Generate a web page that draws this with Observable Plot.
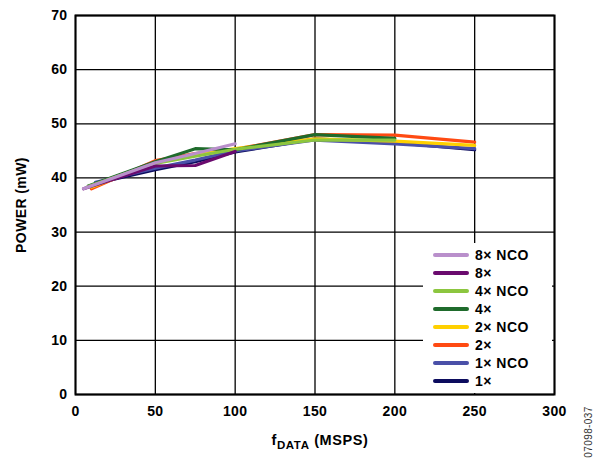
<!DOCTYPE html>
<html>
<head>
<meta charset="utf-8">
<script src="https://cdn.jsdelivr.net/npm/d3@7"></script>
<script src="https://cdn.jsdelivr.net/npm/@observablehq/plot@0.6"></script>
<style>
  body { margin: 0; background: white; font-family: "Liberation Sans", Arial, sans-serif; }
  #wrap { position: relative; width: 600px; height: 459px; }
  #legend { position: absolute; left: 423px; top: 243px; width: 129px; height: 150px; background: white; }
  .row { position: absolute; left: 0; height: 18px; display: flex; align-items: center; }
  .sw { width: 36px; height: 4px; margin-left: 10px; margin-right: 6px; border-radius: 2px; }
  .lab { font-weight: bold; font-size: 14px; letter-spacing: 0.5px; color: #000; }
</style>
</head>
<body>
<div id="wrap"><div id="legend"></div></div>
<script>
const seriesNames = ["1×", "1× NCO", "2×", "2× NCO", "4×", "4× NCO", "8×", "8× NCO"];
const seriesColors = ["#0c0c5e", "#4a50a8", "#ff4a12", "#ffd000", "#1f6b2c", "#8cc63f", "#6a0a6e", "#b98fcb"];
const xTicks = [0, 50, 100, 150, 200, 250, 300];
const yTicks = [0, 10, 20, 30, 40, 50, 60, 70];

const s1x    = [[12.5, 39.0], [50, 41.5], [75, 43.0], [100, 44.8], [150, 47.2], [200, 46.5], [250, 45.2]];
const s1xNCO = [[12.5, 39.2], [50, 41.8], [75, 43.3], [100, 45.0], [150, 47.0], [200, 46.3], [250, 45.4]];
const s2x    = [[10, 38.0], [50, 43.2], [75, 44.5], [100, 45.3], [150, 48.0], [200, 47.9], [250, 46.6]];
const s2xNCO = [[10, 38.3], [50, 42.8], [75, 44.2], [100, 45.4], [150, 47.2], [200, 46.8], [250, 46.0]];
const s4x    = [[8, 38.5], [50, 43.0], [75, 45.4], [100, 45.2], [150, 48.0], [200, 47.3]];
const s4xNCO = [[8, 38.4], [50, 42.7], [75, 44.0], [100, 45.3], [150, 47.0], [200, 47.0]];
const s8x    = [[5, 38.0], [50, 42.2], [75, 42.3], [100, 44.9]];
const s8xNCO = [[5, 38.0], [50, 42.8], [75, 44.5], [100, 46.3]];

const allSeries = [s1x, s1xNCO, s2x, s2xNCO, s4x, s4xNCO, s8x, s8xNCO];
const data = allSeries.flatMap((s, i) => s.map(([x, y]) => ({series: seriesNames[i], x, y})));

const chart = Plot.plot({
  width: 600, height: 459,
  marginLeft: 75, marginRight: 46, marginTop: 15, marginBottom: 65,
  style: { fontFamily: "'Liberation Sans', Arial, sans-serif", fontSize: "14px", fontWeight: "bold", color: "#000", background: "white", overflow: "visible", letterSpacing: "0.4px" },
  x: { domain: [0, 300] },
  y: { domain: [0, 70] },
  color: { domain: seriesNames, range: seriesColors },
  marks: [
    Plot.gridX(xTicks, { stroke: "#000", strokeOpacity: 1, strokeWidth: 1.3 }),
    Plot.gridY(yTicks, { stroke: "#000", strokeOpacity: 1, strokeWidth: 1.3 }),
    Plot.line(data, { x: "x", y: "y", z: "series", stroke: "series", strokeWidth: 3.2, strokeLinejoin: "round", strokeLinecap: "round" }),
    Plot.frame({ stroke: "#000", strokeWidth: 2 }),
    Plot.axisX(xTicks, { tickSize: 0, tickPadding: 12, label: null }),
    Plot.axisY(yTicks, { tickSize: 0, tickPadding: 8, label: null })
  ]
});

const wrap = document.getElementById("wrap");
wrap.insertBefore(chart, wrap.firstChild);

const svg = d3.select(chart);
// y-axis title
svg.append("text")
  .attr("transform", "translate(26,205) rotate(-90)")
  .attr("text-anchor", "middle")
  .attr("font-size", 14).attr("font-weight", "bold")
  .attr("letter-spacing", "0.4px")
  .attr("font-family", "'Liberation Sans', Arial, sans-serif")
  .attr("fill", "#000")
  .text("POWER (mW)");
// x-axis title with subscript
const xt = svg.append("text")
  .attr("x", 320).attr("y", 445)
  .attr("text-anchor", "middle")
  .attr("font-size", 14.5).attr("font-weight", "bold")
  .attr("letter-spacing", "0.6px")
  .attr("font-family", "'Liberation Sans', Arial, sans-serif")
  .attr("fill", "#000");
xt.append("tspan").text("f");
xt.append("tspan").attr("font-size", 11.5).attr("dy", 4).text("DATA");
xt.append("tspan").attr("dy", -4).text(" (MSPS)");
// figure id
svg.append("text")
  .attr("transform", "translate(592,432) rotate(-90)")
  .attr("text-anchor", "middle")
  .attr("font-size", 10).attr("font-weight", "normal")
  .attr("font-family", "'Liberation Sans', Arial, sans-serif")
  .attr("fill", "#333")
  .text("07098-037");

// legend (reverse order)
const legend = document.getElementById("legend");
const order = seriesNames.map((n, i) => i).reverse();
order.forEach((i, k) => {
  const row = document.createElement("div");
  row.className = "row";
  row.style.top = (3 + k * 18) + "px";
  const sw = document.createElement("div");
  sw.className = "sw";
  sw.style.background = seriesColors[i];
  const lab = document.createElement("span");
  lab.className = "lab";
  lab.textContent = seriesNames[i];
  row.appendChild(sw); row.appendChild(lab);
  legend.appendChild(row);
});
</script>
</body>
</html>
